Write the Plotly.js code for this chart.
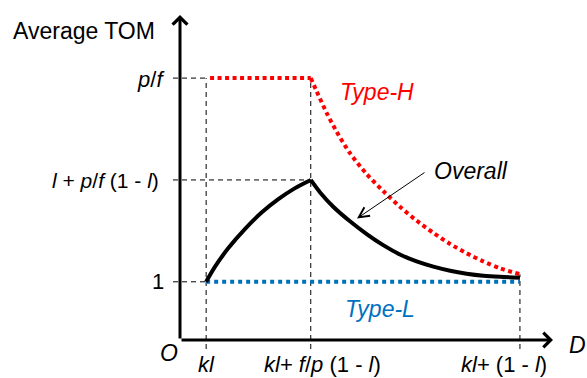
<!DOCTYPE html>
<html>
<head>
<meta charset="utf-8">
<script src="https://cdn.plot.ly/plotly-3.0.1.min.js"></script>
<style>html,body{margin:0;padding:0;background:#fff;}#chart{width:587px;height:378px;}</style>
</head>
<body>
<div id="chart"></div>
<script>
// ---- data (conceptual units) ----
const xTickVals = [0.1, 0.5, 1.3];
const xTickText = ['<i>kl</i>', '<i>kl</i>+ <i>f</i>/<i>p</i> (1 - <i>l</i>)', '<i>kl</i>+ (1 - <i>l</i>)'];
const yTickVals = [1, 2.75, 4.5];
const yTickText = ['1', '<i>l</i> + <i>p</i>/<i>f</i> (1 - <i>l</i>)', '<i>p</i>/<i>f</i>'];

// Overall: rising part then falling part
const overallRiseX = [0.1, 0.134, 0.185, 0.249, 0.312, 0.376, 0.44, 0.5];
const overallRiseY = [1.0, 1.26, 1.58, 1.91, 2.19, 2.42, 2.61, 2.75];
const overallFallX = [0.5, 0.535, 0.586, 0.65, 0.714, 0.777, 0.841, 0.905, 0.969, 1.033, 1.096, 1.16, 1.224, 1.3];
const overallFallY = [2.75, 2.54, 2.29, 2.04, 1.82, 1.63, 1.47, 1.35, 1.26, 1.19, 1.14, 1.105, 1.085, 1.07];

// Type-H: flat part then falling part
const typeHFlatX = [0.115, 0.5];
const typeHFlatY = [4.5, 4.5];
const typeHFallX = [0.5, 0.523, 0.561, 0.599, 0.65, 0.714, 0.777, 0.841, 0.905, 0.969, 1.033, 1.096, 1.16, 1.224, 1.3];
const typeHFallY = [4.5, 4.27, 3.90, 3.58, 3.21, 2.85, 2.56, 2.29, 2.05, 1.84, 1.65, 1.49, 1.35, 1.23, 1.13];

// Type-L
const typeLX = [0.1, 1.3];
const typeLY = [1, 1];

// ---- pixel mapping helpers (layout only) ----
const W = 587, H = 378;
const X0 = 180, Y0 = 340;        // pixel location of origin O
const PX_X = 261.5, PX_Y = 58.2; // pixels per unit
const dx = px => (px - X0) / PX_X;
const dy = py => (Y0 - py) / PX_Y;

const FONT = '"Liberation Sans", Arial, sans-serif';
const dashBlack = {color: '#000', width: 1, dash: '5px,4px'};

// guide lines built from tick values
const gx = [], gy = [];
function seg(x1, y1, x2, y2) { gx.push(x1, x2, null); gy.push(y1, y2, null); }
const tickOutX = dx(173), tickOutY = dy(349);
seg(tickOutX, yTickVals[2], xTickVals[0], yTickVals[2]);
seg(tickOutX, yTickVals[1], xTickVals[1], yTickVals[1]);
seg(tickOutX, yTickVals[0], xTickVals[0], yTickVals[0]);
seg(xTickVals[0], tickOutY, xTickVals[0], yTickVals[2]);
seg(xTickVals[1], tickOutY, xTickVals[1], yTickVals[2]);
seg(xTickVals[2], tickOutY, xTickVals[2], typeHFallY[typeHFallY.length - 1]);

const redLine = {color: '#FF0000', width: 4, dash: '4px,3.5px'};
const blackLine = {color: '#000', width: 4, shape: 'spline', smoothing: 0.8};
const traces = [
  {x: gx, y: gy, mode: 'lines', line: dashBlack, hoverinfo: 'skip'},
  {x: typeLX, y: typeLY, mode: 'lines', line: {color: '#0070C0', width: 4, dash: '4px,4px'}},
  {x: typeHFlatX, y: typeHFlatY, mode: 'lines', line: redLine},
  {x: typeHFallX, y: typeHFallY, mode: 'lines', line: Object.assign({shape: 'spline', smoothing: 0.8}, redLine)},
  {x: overallRiseX, y: overallRiseY, mode: 'lines', line: blackLine},
  {x: overallFallX, y: overallFallY, mode: 'lines', line: blackLine}
];

const ann = [];
// axes with arrows
ann.push({x: dx(553), y: 0, ax: 0, ay: 0, axref: 'x', ayref: 'y', xref: 'x', yref: 'y', text: '', showarrow: true,
  arrowhead: 4, arrowsize: 0.95, arrowwidth: 3, arrowcolor: '#000', standoff: 0});
ann.push({x: 0, y: dy(15), ax: 0, ay: 0, axref: 'x', ayref: 'y', xref: 'x', yref: 'y', text: '', showarrow: true,
  arrowhead: 4, arrowsize: 0.95, arrowwidth: 3, arrowcolor: '#000', standoff: 0});
// Overall pointer
ann.push({x: dx(357), y: dy(218.5), ax: dx(426), ay: dy(171.5), axref: 'x', ayref: 'y', xref: 'x', yref: 'y', text: '', showarrow: true,
  arrowhead: 5, arrowsize: 2, arrowwidth: 1, arrowcolor: '#000', standoff: 0});

function txt(text, px, py, xanchor, size, color) {
  ann.push({x: dx(px), y: dy(py), xref: 'x', yref: 'y', text: text, showarrow: false,
    xanchor: xanchor, yanchor: 'middle', font: {family: FONT, size: size, color: color || '#000'}});
}
txt('Average TOM', 11, 31, 'left', 23);
txt('<i>O</i>', 169, 353, 'center', 23);
txt('<i>D</i>', 577, 345, 'center', 23);
txt('<i>Type-H</i>', 377, 92, 'center', 23, '#FF0000');
txt('<i>Type-L</i>', 380, 309, 'center', 23, '#0070C0');
txt('<i>Overall</i>', 432, 171, 'left', 23);

// y tick labels: [right edge px, centre px, font size]
const yLabelPos = [[166, 281, 22], [161, 181, 21], [167, 80, 22]];
yTickVals.forEach((v, i) => {
  ann.push({x: dx(yLabelPos[i][0]), y: v, yshift: (dy(yLabelPos[i][1]) - v) * PX_Y,
    xref: 'x', yref: 'y', text: yTickText[i], showarrow: false, xanchor: 'right', yanchor: 'middle',
    font: {family: FONT, size: yLabelPos[i][2], color: '#000'}});
});
// x tick labels
const xLabelShift = [0, 12, -16];
xTickVals.forEach((v, i) => {
  ann.push({x: v, y: dy(H), xshift: xLabelShift[i], xref: 'x', yref: 'y', text: xTickText[i], showarrow: false,
    xanchor: 'center', yanchor: 'bottom', borderpad: 0, font: {family: FONT, size: 22, color: '#000'}});
});

const layout = {
  width: W, height: H,
  margin: {l: 0, r: 0, t: 0, b: 0},
  paper_bgcolor: '#fff', plot_bgcolor: '#fff',
  xaxis: {range: [dx(0), dx(W)], visible: false, fixedrange: true},
  yaxis: {range: [dy(H), dy(0)], visible: false, fixedrange: true},
  annotations: ann,
  showlegend: false
};

Plotly.newPlot('chart', traces, layout, {staticPlot: true, displayModeBar: false});
</script>
</body>
</html>
